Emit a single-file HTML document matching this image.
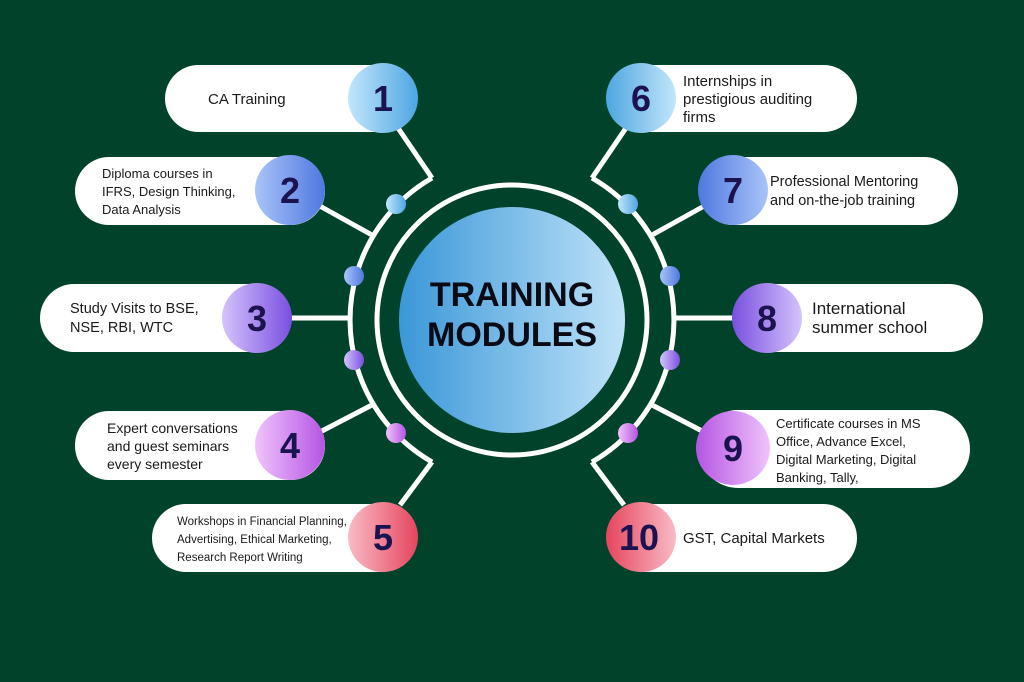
<!DOCTYPE html>
<html><head><meta charset="utf-8"><style>
html,body{margin:0;padding:0;background:#00432a;}
svg{display:block}
text{font-family:"Liberation Sans",sans-serif;}
</style></head><body>
<svg width="1024" height="682" viewBox="0 0 1024 682" xmlns="http://www.w3.org/2000/svg">
<defs>
<linearGradient id="c" x1="0" x2="1"><stop offset="0" stop-color="#3a97d8"/><stop offset="1" stop-color="#bfe3f8"/></linearGradient>
<linearGradient id="g1" x1="0" x2="1"><stop offset="0" stop-color="#c2e6fa"/><stop offset="1" stop-color="#4ea6e2"/></linearGradient>
<linearGradient id="g2" x1="0" x2="1"><stop offset="0" stop-color="#a9c4f8"/><stop offset="1" stop-color="#4f78e0"/></linearGradient>
<linearGradient id="g3" x1="0" x2="1"><stop offset="0" stop-color="#d4c4fb"/><stop offset="1" stop-color="#7a4fe0"/></linearGradient>
<linearGradient id="g4" x1="0" x2="1"><stop offset="0" stop-color="#f0c4fb"/><stop offset="1" stop-color="#b555e3"/></linearGradient>
<linearGradient id="g5" x1="0" x2="1"><stop offset="0" stop-color="#f8bcc6"/><stop offset="1" stop-color="#e6455e"/></linearGradient>
<linearGradient id="h1" x1="1" x2="0"><stop offset="0" stop-color="#c2e6fa"/><stop offset="1" stop-color="#4ea6e2"/></linearGradient>
<linearGradient id="h2" x1="1" x2="0"><stop offset="0" stop-color="#a9c4f8"/><stop offset="1" stop-color="#4f78e0"/></linearGradient>
<linearGradient id="h3" x1="1" x2="0"><stop offset="0" stop-color="#d4c4fb"/><stop offset="1" stop-color="#7a4fe0"/></linearGradient>
<linearGradient id="h4" x1="1" x2="0"><stop offset="0" stop-color="#f0c4fb"/><stop offset="1" stop-color="#b555e3"/></linearGradient>
<linearGradient id="h5" x1="1" x2="0"><stop offset="0" stop-color="#f8bcc6"/><stop offset="1" stop-color="#e6455e"/></linearGradient>
</defs>
<rect width="1024" height="682" fill="#00432a"/>
<g stroke="#fff" stroke-width="5" fill="none">
<path d="M432 178 A164 164 0 0 0 432 462"/>
<path d="M592 178 A164 164 0 0 1 592 462"/>
<circle cx="512" cy="320" r="135" stroke-width="5"/>
<polyline points="398,128 432,178"/><line x1="318" y1="205" x2="372" y2="235"/>
<line x1="290" y1="318" x2="348" y2="318"/><line x1="320" y1="432" x2="372" y2="405"/>
<polyline points="400,505 432,462"/>
<polyline points="626,128 592,178"/><line x1="706" y1="205" x2="652" y2="235"/>
<line x1="734" y1="318" x2="676" y2="318"/><line x1="704" y1="432" x2="652" y2="405"/>
<polyline points="624,505 592,462"/>
</g>
<circle cx="512" cy="320" r="113" fill="url(#c)"/>
<text x="512" y="306" text-anchor="middle" font-size="34" font-weight="bold" fill="#0a0a14">TRAINING</text>
<text x="512" y="346" text-anchor="middle" font-size="34" font-weight="bold" fill="#0a0a14">MODULES</text>
<circle cx="396" cy="204" r="10" fill="url(#g1)"/><circle cx="354" cy="276" r="10" fill="url(#g2)"/>
<circle cx="354" cy="360" r="10" fill="url(#g3)"/><circle cx="396" cy="433" r="10" fill="url(#g4)"/>
<circle cx="628" cy="204" r="10" fill="url(#g1)"/><circle cx="670" cy="276" r="10" fill="url(#g2)"/>
<circle cx="670" cy="360" r="10" fill="url(#g3)"/><circle cx="628" cy="433" r="10" fill="url(#g4)"/>
<g fill="#fff">
<rect x="165" y="65" width="250" height="67" rx="33.5"/>
<rect x="75" y="157" width="250" height="68" rx="34"/>
<rect x="40" y="284" width="250" height="68" rx="34"/>
<rect x="75" y="411" width="250" height="69" rx="34"/>
<rect x="152" y="504" width="262" height="68" rx="34"/>
<rect x="609" y="65" width="248" height="67" rx="33.5"/>
<rect x="699" y="157" width="259" height="68" rx="34"/>
<rect x="734" y="284" width="249" height="68" rx="34"/>
<rect x="699" y="410" width="271" height="78" rx="39"/>
<rect x="609" y="504" width="248" height="68" rx="34"/>
</g>
<circle cx="383" cy="98" r="35" fill="url(#g1)"/>
<circle cx="290" cy="190" r="35" fill="url(#g2)"/>
<circle cx="257" cy="318" r="35" fill="url(#g3)"/>
<circle cx="290" cy="445" r="35" fill="url(#g4)"/>
<circle cx="383" cy="537" r="35" fill="url(#g5)"/>
<circle cx="641" cy="98" r="35" fill="url(#h1)"/>
<circle cx="733" cy="190" r="35" fill="url(#h2)"/>
<circle cx="767" cy="318" r="35" fill="url(#h3)"/>
<circle cx="733" cy="448" r="37" fill="url(#h4)"/>
<circle cx="641" cy="537" r="35" fill="url(#h5)"/>
<g font-size="36" font-weight="bold" fill="#1b1250" text-anchor="middle">
<text x="383" y="111">1</text><text x="290" y="203">2</text><text x="257" y="331">3</text>
<text x="290" y="458">4</text><text x="383" y="550">5</text>
<text x="641" y="111">6</text><text x="733" y="203">7</text><text x="767" y="331">8</text>
<text x="733" y="461">9</text><text x="639" y="550">10</text>
</g>
<g fill="#1a1a1a">
<text x="208" y="104" font-size="15">CA Training</text>
<text font-size="13"><tspan x="102" y="178">Diploma courses in</tspan><tspan x="102" y="196">IFRS, Design Thinking,</tspan><tspan x="102" y="214">Data Analysis</tspan></text>
<text font-size="14.5"><tspan x="70" y="313">Study Visits to BSE,</tspan><tspan x="70" y="332">NSE, RBI, WTC</tspan></text>
<text font-size="14"><tspan x="107" y="433">Expert conversations</tspan><tspan x="107" y="451">and guest seminars</tspan><tspan x="107" y="469">every semester</tspan></text>
<text font-size="11.5"><tspan x="177" y="525">Workshops in Financial Planning,</tspan><tspan x="177" y="543">Advertising, Ethical Marketing,</tspan><tspan x="177" y="561">Research Report Writing</tspan></text>
<text font-size="15"><tspan x="683" y="86">Internships in</tspan><tspan x="683" y="104">prestigious auditing</tspan><tspan x="683" y="122">firms</tspan></text>
<text font-size="14.5"><tspan x="770" y="186">Professional Mentoring</tspan><tspan x="770" y="205">and on-the-job training</tspan></text>
<text font-size="17"><tspan x="812" y="314">International</tspan><tspan x="812" y="333">summer school</tspan></text>
<text font-size="13"><tspan x="776" y="428">Certificate courses in MS</tspan><tspan x="776" y="446">Office, Advance Excel,</tspan><tspan x="776" y="464">Digital Marketing, Digital</tspan><tspan x="776" y="482">Banking, Tally,</tspan></text>
<text x="683" y="543" font-size="15">GST, Capital Markets</text>
</g>
</svg>
</body></html>
